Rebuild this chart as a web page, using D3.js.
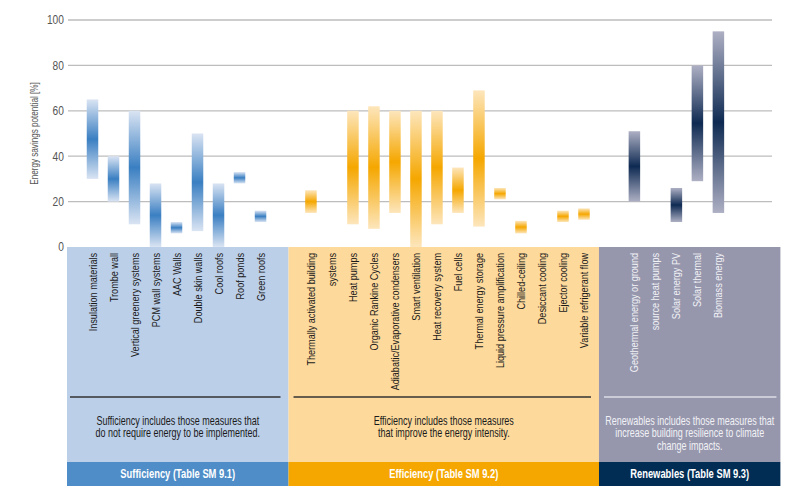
<!DOCTYPE html>
<html>
<head>
<meta charset="utf-8">
<script src="https://cdn.jsdelivr.net/npm/d3@7"></script>
<style>
  body { margin: 0; background: #fff; }
  svg { display: block; }
  text { font-family: "Liberation Sans", Arial, sans-serif; }
</style>
</head>
<body>
<div id="chart"></div>
<script>
// measure labels, one slot per label line (wrapped labels take two slots)
var categories = [
    "Insulation materials", "Trombe wall", "Vertical greenery systems", "PCM wall systems",
    "AAC Walls", "Double skin walls", "Cool roofs", "Roof ponds", "Green roofs",
    "Thermally activated building", "systems", "Heat pumps", "Organic Rankine Cycles",
    "Adiabatic/Evaporative condensers", "Smart ventilation", "Heat recovery system",
    "Fuel cells", "Thermal energy storage", "Liquid pressure amplification",
    "Chilled-ceiling", "Desiccant cooling", "Ejector cooling", "Variable refrigerant flow",
    "Geothermal energy or ground", "source heat pumps", "Solar energy PV",
    "Solar thermal", "Biomass energy"
];
// energy savings potential range [%], null = no bar
var lowValues = [
    30, 20, 10, 0, 6, 7, 0, 28, 11,
    15, null, 10, 8, 15, 0, 10, 15, 9, 21, 6, null, 11, 12,
    20, null, 11, 29, 15
];
var highValues = [
    65, 40, 60, 28, 11, 50, 28, 33, 16,
    25, null, 60, 62, 60, 60, 60, 35, 69, 26, 11.5, null, 16, 17,
    51, null, 26, 80, 95
];
var groupSizes = [9, 14, 5];
var groupNames = ["Sufficiency", "Efficiency", "Renewables"];
var groupHeaders = ["Sufficiency (Table SM 9.1)", "Efficiency (Table SM 9.2)", "Renewables (Table SM 9.3)"];
var groupDescriptions = [
    ["Sufficiency includes those measures that", "do not require energy to be implemented."],
    ["Efficiency includes those measures", "that improve the energy intensity."],
    ["Renewables includes those measures that", "increase building resilience to climate", "change impacts."]
];
var yTicks = [0, 20, 40, 60, 80, 100];

var styles = [
    {light: "#dae4f3", dark: "#3a7fc2", panel: "#bccfe8", header: "#4e8dc7", line: "#333", text: "#1a1a1a"},
    {light: "#fde6bc", dark: "#f5a700", panel: "#fdd99c", header: "#f5a700", line: "#333", text: "#1a1a1a"},
    {light: "#aeb0c4", dark: "#0e2a52", panel: "#9697ad", header: "#012d55", line: "#dcdce6", text: "#f2f2f6"}
];

var width = 800, height = 499;
var gap = 1.4; // extra slots between groups

// slot position of each category
var groupOf = [], slot = [];
var s = 0;
groupSizes.forEach(function(n, g) {
    for (var i = 0; i < n; i++) {
        groupOf.push(g);
        slot.push(s + g * gap);
        s++;
    }
});

var x = d3.scaleLinear()
    .domain([0, categories.length - 1 + 2 * gap])
    .range([92.5, 718.4]);

var y = d3.scaleLinear()
    .domain([0, 100])
    .range([247, 20]);

var svg = d3.select("#chart")
    .append("svg")
    .attr("width", width)
    .attr("height", height);

var defs = svg.append("defs");
styles.forEach(function(st, g) {
    var grad = defs.append("linearGradient")
        .attr("id", "grad" + g)
        .attr("x1", 0).attr("y1", 0)
        .attr("x2", 0).attr("y2", 1);
    grad.append("stop").attr("offset", "0%").attr("stop-color", st.light);
    grad.append("stop").attr("offset", "50%").attr("stop-color", st.dark);
    grad.append("stop").attr("offset", "100%").attr("stop-color", st.light);
});

// panel extents derived from the category slots
var edges = [
    x(slot[0]) - 25.5,
    x(slot[8]) + 28,
    x(slot[22]) + 15,
    x(slot[27]) + 62
];
var panelTop = y(0), panelBottom = 462, headerBottom = 486;

// gridlines
svg.append("g")
    .selectAll("line")
    .data(yTicks.filter(function(d) { return d > 0; }))
    .enter()
    .append("line")
    .attr("x1", 68)
    .attr("x2", 772)
    .attr("y1", function(d) { return y(d); })
    .attr("y2", function(d) { return y(d); })
    .attr("stroke", "#bdbdbd")
    .attr("stroke-width", 1.3);

var yAxis = d3.axisLeft(y)
    .tickValues(yTicks)
    .tickSize(0)
    .tickPadding(6);

var yG = svg.append("g")
    .attr("transform", "translate(69,0)")
    .call(yAxis);
yG.select(".domain").remove();
yG.selectAll("text")
    .attr("font-size", 12)
    .attr("fill", "#555")
    .attr("transform", "scale(0.85,1)");

svg.append("text")
    .attr("transform", "translate(38," + y(50) + ") rotate(-90) scale(0.74,1)")
    .attr("text-anchor", "middle")
    .attr("font-size", 11)
    .attr("fill", "#555")
    .text("Energy savings potential [%]");

// group panels
var panels = svg.append("g").selectAll("g")
    .data(groupNames)
    .enter()
    .append("g");

panels.append("rect")
    .attr("x", function(d, g) { return edges[g]; })
    .attr("width", function(d, g) { return edges[g + 1] - edges[g]; })
    .attr("y", panelTop)
    .attr("height", panelBottom - panelTop)
    .attr("fill", function(d, g) { return styles[g].panel; });

panels.append("rect")
    .attr("x", function(d, g) { return edges[g]; })
    .attr("width", function(d, g) { return edges[g + 1] - edges[g]; })
    .attr("y", panelBottom)
    .attr("height", headerBottom - panelBottom)
    .attr("fill", function(d, g) { return styles[g].header; });

panels.append("line")
    .attr("x1", function(d, g) { return edges[g] + (g === 0 ? 3 : 5); })
    .attr("x2", function(d, g) { return edges[g + 1] - (g === 2 ? 4 : 8); })
    .attr("y1", 397)
    .attr("y2", 397)
    .attr("stroke", function(d, g) { return styles[g].line; })
    .attr("stroke-width", 1.3);

panels.append("text")
    .attr("transform", function(d, g) {
        return "translate(" + (edges[g] + edges[g + 1]) / 2 + ",474) scale(0.75,1)";
    })
    .attr("dy", "0.35em")
    .attr("text-anchor", "middle")
    .attr("font-size", 12.5)
    .attr("font-weight", "bold")
    .attr("fill", "#fff")
    .text(function(d, g) { return groupHeaders[g]; });

panels.each(function(d, g) {
    d3.select(this).append("text")
        .attr("transform", "translate(" + (edges[g] + edges[g + 1]) / 2 + ",0) scale(0.75,1)")
        .attr("text-anchor", "middle")
        .attr("font-size", 12)
        .attr("fill", styles[g].text)
        .selectAll("tspan")
        .data(groupDescriptions[g])
        .enter()
        .append("tspan")
        .attr("x", 0)
        .attr("y", function(t, i) { return 425 + i * 12.5; })
        .text(function(t) { return t; });
});

// bars
var idx = d3.range(categories.length).filter(function(i) { return highValues[i] !== null; });
svg.append("g")
    .selectAll("rect")
    .data(idx)
    .enter()
    .append("rect")
    .attr("x", function(i) { return x(slot[i]) - 5.75; })
    .attr("width", 11.5)
    .attr("y", function(i) { return y(highValues[i]); })
    .attr("height", function(i) { return y(lowValues[i]) - y(highValues[i]); })
    .attr("fill", function(i) { return "url(#grad" + groupOf[i] + ")"; });

// category labels
svg.append("g")
    .selectAll("text")
    .data(categories)
    .enter()
    .append("text")
    .attr("transform", function(d, i) {
        return "translate(" + x(slot[i]) + ",253) rotate(-90) scale(0.79,1)";
    })
    .attr("text-anchor", "end")
    .attr("dy", "0.35em")
    .attr("font-size", 11.5)
    .attr("fill", function(d, i) { return styles[groupOf[i]].text; })
    .text(function(d) { return d; });
</script>
</body>
</html>
